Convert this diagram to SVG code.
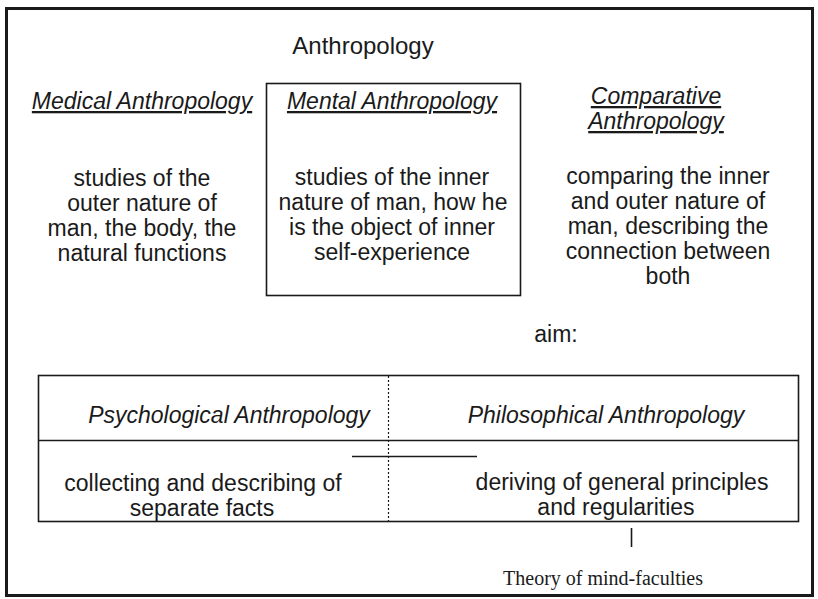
<svg xmlns="http://www.w3.org/2000/svg" width="818" height="599" viewBox="0 0 818 599">
<style>
text{font-family:"Liberation Sans",Arial,sans-serif;font-size:23px;fill:#1a1a1a;text-anchor:middle}
.h{font-style:italic;text-decoration:underline}
.i{font-style:italic}
.t{font-family:"Liberation Serif","Times New Roman",serif;font-size:20px}
.box{fill:none;stroke:#1a1a1a;stroke-width:1.6}
</style>
<rect width="818" height="599" fill="#fff"/>
<rect x="6.5" y="8.5" width="806" height="587" fill="none" stroke="#1a1a1a" stroke-width="3"/>
<g id="title"><text x="363" y="54" style="font-size:24px">Anthropology</text></g>
<g id="medical">
<text class="h" x="142" y="109">Medical Anthropology</text>
<text x="142" y="186">studies of the</text>
<text x="142" y="211">outer nature of</text>
<text x="142" y="236">man, the body, the</text>
<text x="142" y="261">natural functions</text>
</g>
<g id="mental">
<rect class="box" x="266.5" y="83.5" width="254" height="212"/>
<text class="h" x="392" y="109">Mental Anthropology</text>
<text x="392" y="185">studies of the inner</text>
<text x="393" y="210">nature of man, how he</text>
<text x="392" y="235">is the object of inner</text>
<text x="392" y="260">self-experience</text>
</g>
<g id="comparative">
<text class="h" x="656" y="104">Comparative</text>
<text class="h" x="656" y="129">Anthropology</text>
<text x="668" y="184">comparing the inner</text>
<text x="668" y="209">and outer nature of</text>
<text x="668" y="234">man, describing the</text>
<text x="668" y="259">connection between</text>
<text x="668" y="284">both</text>
</g>
<g id="aim"><text x="556" y="342">aim:</text></g>
<g id="table">
<rect class="box" x="38.5" y="375.5" width="760" height="146"/>
<line x1="38" y1="440.5" x2="799" y2="440.5" stroke="#1a1a1a" stroke-width="1.6"/>
<line x1="388.5" y1="376" x2="388.5" y2="521" stroke="#1a1a1a" stroke-width="1.2" stroke-dasharray="2,2"/>
</g>
<g id="psychological">
<text class="i" x="229" y="423">Psychological Anthropology</text>
<text x="203" y="491">collecting and describing of</text>
<text x="202" y="516">separate facts</text>
</g>
<g id="philosophical">
<text class="i" x="606" y="423">Philosophical Anthropology</text>
<text x="622" y="490">deriving of general principles</text>
<text x="616" y="515">and regularities</text>
</g>
<g id="theory"><text class="t" x="603" y="585">Theory of mind-faculties</text></g>
<g id="connectors">
<line x1="352" y1="456.5" x2="477" y2="456.5" stroke="#1a1a1a" stroke-width="1.6"/>
<line x1="631.5" y1="528" x2="631.5" y2="547" stroke="#1a1a1a" stroke-width="1.6"/>
</g>
</svg>
